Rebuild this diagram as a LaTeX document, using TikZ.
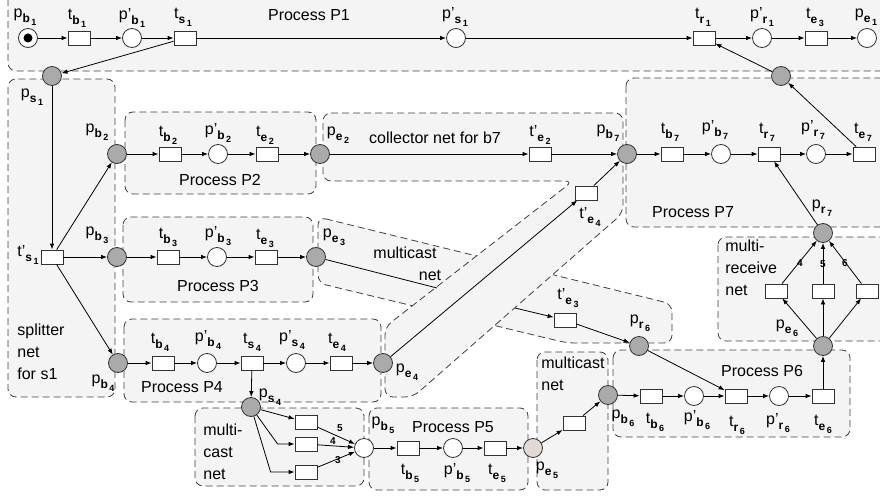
\documentclass[tikz,border=0pt]{standalone}
\usepackage{fontspec}
\setmainfont{Liberation Sans}
\usetikzlibrary{arrows.meta}
\definecolor{regionfill}{RGB}{244,244,244}
\definecolor{placegray}{RGB}{170,170,170}
\definecolor{placepink}{RGB}{226,216,216}
\newcommand{\nmsub}[2]{\raisebox{-5pt}{\fontsize{12}{12}\selectfont\bfseries #1\hspace{1.5pt}\raisebox{-3pt}{\fontsize{9}{9}\selectfont #2}}}
\newcommand{\nm}[3]{#1\nmsub{#2}{#3}}
\newcommand{\nmp}[3]{#1'\nmsub{#2}{#3}}
\tikzset{
  region/.style={draw=black!75, fill=regionfill, dash pattern=on 7pt off 4pt, line width=0.8pt, rounded corners=8pt},
  place/.style={circle, draw=black!80, fill=white, line width=0.8pt, minimum size=19pt, inner sep=0pt},
  gplace/.style={place, fill=placegray},
  trans/.style={draw=black!80, fill=white, line width=0.8pt, minimum width=22pt, minimum height=14pt, inner sep=0pt},
  lbl/.style={inner sep=0pt, font=\fontsize{16}{18}\selectfont},
  txt/.style={inner sep=0pt, font=\fontsize{16}{22}\selectfont, align=left},
  wt/.style={inner sep=0.5pt, font=\fontsize{10}{10}\selectfont\bfseries}
}
\begin{document}
\begin{tikzpicture}[x=1pt, y=-1pt, line width=0.8pt, >={Latex[length=6pt,width=4.5pt]}]
\clip (0,0) rectangle (880,495);
\draw[region] (8,-20) rectangle (900,71);
\draw[region] (8,79) rectangle (115,397);
\draw[region] (125,112) rectangle (316,194);
\draw[region] (123,217) rectangle (313,302);
\draw[region] (124,319) rectangle (381,402);
\draw[region] (195,408) rectangle (364,486);
\draw[region] (369,408) rectangle (528,490);
\draw[region] (537,352) rectangle (608,490);
\draw[region] (613,350) rectangle (850,437);
\draw[region] (718,237) rectangle (900,341);
\draw[region] (626,78) rectangle (900,227);
\draw[region] (318,217) -- (672,304) -- (672,343) -- (567,343) -- (318,283) -- cycle;
\draw[region] (323,113) -- (623,113) -- (623,213) -- (413,397) -- (385,397) -- (385,327) -- (573,181) -- (323,181) -- cycle;

\node[place] (pb1) at (28,38) {};
\fill[black] (pb1) circle (4.5pt);
\node[trans] (tb1) at (79,38) {};
\node[place] (pb1p) at (132,38) {};
\node[trans] (ts1) at (185,38) {};
\node[place] (ps1p) at (456,38) {};
\node[trans] (tr1) at (704,38) {};
\node[place] (pr1p) at (762,38) {};
\node[trans] (te1) at (816,38) {};
\node[place] (pe1) at (867,38) {};
\node[gplace] (pr1) at (781,76) {};
\node[gplace] (ps1) at (52,76) {};
\node[trans] (ts1p) at (52,257) {};
\node[gplace] (pb2) at (117,154) {};
\node[gplace] (pb3) at (117,257) {};
\node[gplace] (pb4) at (118,363) {};
\node[trans] (tb2) at (170,154) {};
\node[place] (pb2p) at (218,154) {};
\node[trans] (te2) at (267,154) {};
\node[gplace] (pe2) at (320,154) {};
\node[trans] (tb3) at (168,257) {};
\node[place] (pb3p) at (217,257) {};
\node[trans] (te3) at (266,257) {};
\node[gplace] (pe3) at (316,257) {};
\node[trans] (te2p) at (540,154) {};
\node[gplace] (pb7) at (627,154) {};
\node[trans] (te4p) at (586,193) {};
\node[trans] (tb7) at (672,154) {};
\node[place] (pb7p) at (721,154) {};
\node[trans] (tr7) at (769,154) {};
\node[place] (pr7p) at (816,154) {};
\node[trans] (te7) at (864,154) {};
\node[gplace] (pr7) at (823,233) {};
\node[trans] (mr1) at (776,291) {};
\node[trans] (mr2) at (823,291) {};
\node[trans] (mr3) at (867,291) {};
\node[gplace] (pe6) at (823,346) {};
\node[trans] (te3p) at (565,320) {};
\node[gplace] (pr6) at (639,346) {};
\node[gplace] (pb6) at (608,395) {};
\node[trans] (tb6) at (651,396) {};
\node[place] (pb6p) at (694,396) {};
\node[trans] (tr6) at (736,396) {};
\node[place] (pr6p) at (779,396) {};
\node[trans] (te6) at (823,396) {};
\node[trans] (tb4) at (163,363) {};
\node[place] (pb4p) at (207,363) {};
\node[trans] (ts4) at (252,363) {};
\node[place] (ps4p) at (296,363) {};
\node[trans] (te4) at (341,363) {};
\node[gplace] (pe4) at (383,363) {};
\node[gplace] (ps4) at (251,407) {};
\node[trans] (mc1) at (306,422) {};
\node[trans] (mc2) at (306,444) {};
\node[trans] (mc3) at (306,472) {};
\node[place] (pb5) at (364,448) {};
\node[trans] (tb5) at (408,448) {};
\node[place] (pb5p) at (453,448) {};
\node[trans] (te5) at (495,448) {};
\node[place, fill=placepink] (pe5) at (533,448) {};
\node[trans] (mc4) at (574,423) {};
\coordinate (mcA) at (437,288);
\coordinate (mcB) at (515,308);

\node[lbl] (lpb1) at (25,17) {\nm{p}{b}{1}};
\node[lbl] (ltb1) at (77,18) {\nm{t}{b}{1}};
\node[lbl] (lpb1p) at (132,18) {\nmp{p}{b}{1}};
\node[lbl] (lts1) at (183,17) {\nm{t}{s}{1}};
\node[lbl] (lps1p) at (455,17) {\nmp{p}{s}{1}};
\node[lbl] (ltr1) at (703,17) {\nm{t}{r}{1}};
\node[lbl] (lpr1p) at (762,17) {\nmp{p}{r}{1}};
\node[lbl] (lte1) at (815,17) {\nm{t}{e}{3}};
\node[lbl] (lpe1) at (866,17) {\nm{p}{e}{1}};
\node[txt] (nP1) at (309,15) {Process P1};
\node[lbl] (lps1) at (32,97) {\nm{p}{s}{1}};
\node[lbl] (lts1p) at (28,255) {\nmp{t}{s}{1}};
\node[lbl] (lpb2) at (97,132) {\nm{p}{b}{2}};
\node[lbl] (lpb3) at (97,235) {\nm{p}{b}{3}};
\node[lbl] (lpb4) at (103,383) {\nm{p}{b}{4}};
\node[txt, anchor=west] (nsplit) at (17,352) {splitter\\net\\for s1};
\node[lbl] (ltb2) at (168,135) {\nm{t}{b}{2}};
\node[lbl] (lpb2p) at (218,133) {\nmp{p}{b}{2}};
\node[lbl] (lte2) at (265,135) {\nm{t}{e}{2}};
\node[txt] (nP2) at (220,180) {Process P2};
\node[lbl] (ltb3) at (168,237) {\nm{t}{b}{3}};
\node[lbl] (lpb3p) at (218,236) {\nmp{p}{b}{3}};
\node[lbl] (lte3) at (265,238) {\nm{t}{e}{3}};
\node[txt] (nP3) at (218,286) {Process P3};
\node[lbl] (lpe3) at (334,237) {\nm{p}{e}{3}};
\node[lbl] (lpe2) at (338,135) {\nm{p}{e}{2}};
\node[txt] (ncoll) at (435,138) {collector net for b7};
\node[lbl] (lte2p) at (540,135) {\nmp{t}{e}{2}};
\node[lbl] (lpb7) at (608,133) {\nm{p}{b}{7}};
\node[lbl] (lte4p) at (590,217) {\nmp{t}{e}{4}};
\node[txt] (nmc3a) at (405,253) {multicast};
\node[txt] (nmc3b) at (430,275) {net};
\node[lbl] (lte3p) at (568,298) {\nmp{t}{e}{3}};
\node[lbl] (lpr6) at (640,323) {\nm{p}{r}{6}};
\node[lbl] (ltb7) at (670,132) {\nm{t}{b}{7}};
\node[lbl] (lpb7p) at (715,130) {\nmp{p}{b}{7}};
\node[lbl] (ltr7) at (767,132) {\nm{t}{r}{7}};
\node[lbl] (lpr7p) at (813,130) {\nmp{p}{r}{7}};
\node[lbl] (lte7) at (863,132) {\nm{t}{e}{7}};
\node[txt] (nP7) at (693,212) {Process P7};
\node[lbl] (lpr7) at (822,208) {\nm{p}{r}{7}};
\node[txt, anchor=west] (nmr) at (725,268) {multi-\\receive\\net};
\node[wt] (w4b) at (800,263) {4};
\node[wt, fill=regionfill] (w5b) at (823,264) {5};
\node[wt] (w6b) at (845,263) {6};
\node[lbl] (lpe6) at (787,328) {\nm{p}{e}{6}};
\node[txt] (nP6) at (762,371) {Process P6};
\node[lbl] (lpb6) at (623,418) {\nm{p}{b}{6}};
\node[lbl] (ltb6) at (655,422) {\nm{t}{b}{6}};
\node[lbl] (lpb6p) at (697,420) {\nmp{p}{b}{6}};
\node[lbl] (ltr6) at (737,425) {\nm{t}{r}{6}};
\node[lbl] (lpr6p) at (778,423) {\nmp{p}{r}{6}};
\node[lbl] (lte6) at (823,424) {\nm{t}{e}{6}};
\node[lbl] (ltb4) at (160,342) {\nm{t}{b}{4}};
\node[lbl] (lpb4p) at (208,340) {\nmp{p}{b}{4}};
\node[lbl] (lts4) at (252,342) {\nm{t}{s}{4}};
\node[lbl] (lps4p) at (292,340) {\nmp{p}{s}{4}};
\node[lbl] (lte4) at (337,342) {\nm{t}{e}{4}};
\node[txt] (nP4) at (182,387) {Process P4};
\node[lbl] (lpe4) at (407,372) {\nm{p}{e}{4}};
\node[lbl] (lps4) at (270,397) {\nm{p}{s}{4}};
\node[txt, anchor=west] (nmc4) at (203,452) {multi-\\cast\\net};
\node[wt] (w5a) at (340,428) {5};
\node[wt] (w4a) at (333,441) {4};
\node[wt, fill=regionfill] (w3a) at (338,460) {3};
\node[lbl] (lpb5) at (383,425) {\nm{p}{b}{5}};
\node[txt] (nP5) at (453,427) {Process P5};
\node[lbl] (ltb5) at (410,473) {\nm{t}{b}{5}};
\node[lbl] (lpb5p) at (457,473) {\nmp{p}{b}{5}};
\node[lbl] (lte5) at (497,473) {\nm{t}{e}{5}};
\node[lbl] (lpe5) at (547,470) {\nm{p}{e}{5}};
\node[txt, anchor=west] (nmc5) at (541,374) {multicast\\net};

\draw[->] (pb1) -- (tb1); \draw[->] (tb1) -- (pb1p); \draw[->] (pb1p) -- (ts1);
\draw[->] (ts1) -- (ps1p); \draw[->] (ps1p) -- (tr1); \draw[->] (tr1) -- (pr1p);
\draw[->] (pr1p) -- (te1); \draw[->] (te1) -- (pe1);
\draw[->] (ts1) -- (ps1); \draw[->] (ps1) -- (ts1p);
\draw[->] (ts1p) -- (pb2); \draw[->] (ts1p) -- (pb3); \draw[->] (ts1p) -- (pb4);
\draw[->] (pb2) -- (tb2); \draw[->] (tb2) -- (pb2p); \draw[->] (pb2p) -- (te2); \draw[->] (te2) -- (pe2);
\draw[->] (pb3) -- (tb3); \draw[->] (tb3) -- (pb3p); \draw[->] (pb3p) -- (te3); \draw[->] (te3) -- (pe3);
\draw[->] (pe2) -- (te2p); \draw[->] (te2p) -- (pb7);
\draw[->] (pe4) -- (te4p); \draw[->] (te4p) -- (pb7);
\draw (pe3) -- (mcA); \draw[->] (mcB) -- (te3p); \draw[->] (te3p) -- (pr6);
\draw[->] (pb7) -- (tb7); \draw[->] (tb7) -- (pb7p); \draw[->] (pb7p) -- (tr7);
\draw[->] (tr7) -- (pr7p); \draw[->] (pr7p) -- (te7);
\draw[->] (te7) -- (pr1); \draw[->] (pr1) -- (tr1); \draw[->] (pr7) -- (tr7);
\draw[->] (pe6) -- (mr1); \draw[->] (pe6) -- (mr2); \draw[->] (pe6) -- (mr3);
\draw[->] (mr1) -- (pr7); \draw[->] (mr2) -- (pr7); \draw[->] (mr3) -- (pr7);
\draw[->] (pb6) -- (tb6); \draw[->] (tb6) -- (pb6p); \draw[->] (pb6p) -- (tr6);
\draw[->] (tr6) -- (pr6p); \draw[->] (pr6p) -- (te6);
\draw[->] (te6) -- (pe6); \draw[->] (pr6) -- (tr6);
\draw[->] (pb4) -- (tb4); \draw[->] (tb4) -- (pb4p); \draw[->] (pb4p) -- (ts4);
\draw[->] (ts4) -- (ps4p); \draw[->] (ps4p) -- (te4); \draw[->] (te4) -- (pe4);
\draw[->] (ts4) -- (ps4);
\draw[->] (ps4) -- (mc1);
\draw[->] (ps4) -- ([xshift=-17pt]mc2.west) -- (mc2);
\draw[->] (ps4) -- ([xshift=-24pt]mc3.west) -- (mc3);
\draw[->] (mc1) -- (pb5); \draw[->] (mc2) -- (pb5); \draw[->] (mc3) -- (pb5);
\draw[->] (pb5) -- (tb5); \draw[->] (tb5) -- (pb5p); \draw[->] (pb5p) -- (te5); \draw[->] (te5) -- (pe5);
\draw[->] (pe5) -- (mc4); \draw[->] (mc4) -- (pb6);
\end{tikzpicture}
\end{document}
